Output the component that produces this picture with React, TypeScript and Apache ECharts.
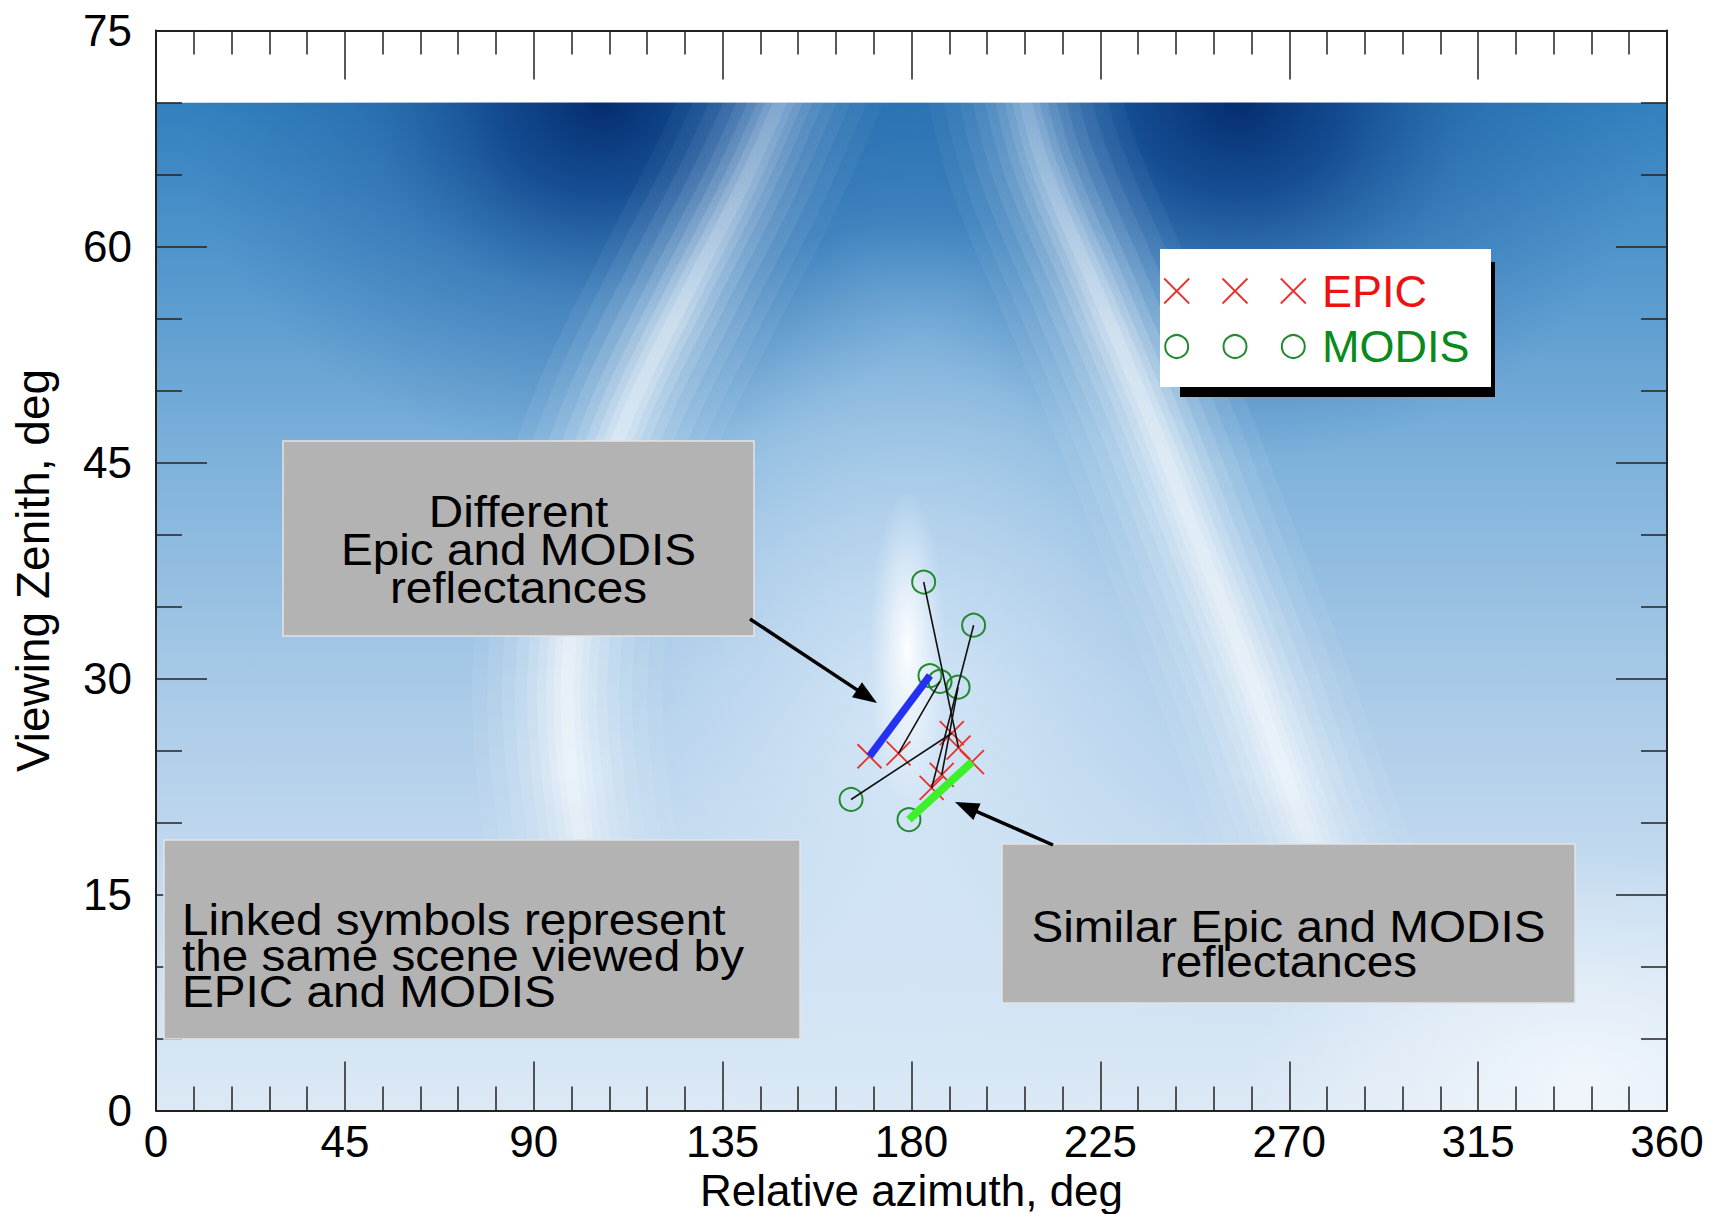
import React, { useEffect, useRef } from "react";
import * as echarts from "echarts";

// ---- axes ----
const xTicks = [0, 45, 90, 135, 180, 225, 270, 315, 360];
const yTicks = [0, 15, 30, 45, 60, 75];

// ---- observations: pair i links MODIS[i] with EPIC[i] ----
const epicAzimuth = [191.2, 184.8, 170.0, 176.9, 187.2, 189.6, 194.4];
const epicZenith = [25.2, 22.4, 24.6, 24.8, 23.3, 26.2, 24.2];
const modisAzimuth = [182.9, 194.8, 184.4, 186.8, 191.1, 165.6, 179.4];
const modisZenith = [36.7, 33.7, 30.2, 29.8, 29.4, 21.6, 20.2];
const differentPair = 2; // blue link
const similarPair = 6; // green link

// ---- background field features (azimuth, zenith) ----
const fieldTop = 70;
const ridgeLeft = [[153, 73], [141, 65], [127, 57], [112, 48], [102, 39], [98, 30], [100, 21], [106, 11]];
const ridgeRight = [[205, 73], [211, 66], [224, 57], [237, 48], [249, 39], [261, 30], [272, 21], [285, 11]];
const darkLobes = [[106, 70], [258, 70]];
const hotspot = [179, 32];

const FONT = "'Liberation Sans', Arial, Helvetica, sans-serif";

function renderBackdrop(_params: any, api: any) {
  const pt = (az: number, zen: number) => api.coord([az, zen]);
  const rectOf = (az0: number, az1: number, zLo: number, zHi: number) => {
    const a = pt(az0, zHi);
    const b = pt(az1, zLo);
    return { x: a[0], y: a[1], width: b[0] - a[0], height: b[1] - a[1] };
  };
  const radial = (stops: [number, string][]) => ({
    type: "radial", x: 0.5, y: 0.5, r: 0.5,
    colorStops: stops.map(([o, c]) => ({ offset: o, color: c })),
  });
  const children: any[] = [];
  children.push({
    type: "rect",
    shape: rectOf(0, 360, 0, fieldTop),
    style: {
      fill: {
        type: "linear", x: 0, y: 0, x2: 0, y2: 1,
        colorStops: [
          { offset: 0, color: "#3380be" },
          { offset: 0.143, color: "#4f94cb" },
          { offset: 0.357, color: "#7fb2db" },
          { offset: 0.571, color: "#a7c9e7" },
          { offset: 0.786, color: "#c7dcf0" },
          { offset: 1, color: "#dce9f5" },
        ],
      },
    },
  });
  darkLobes.forEach(([az, zen]) => {
    children.push({
      type: "rect",
      shape: rectOf(az - 100, az + 100, zen - 25, zen + 25),
      style: {
        fill: radial([
          [0, "rgba(4,42,108,0.97)"],
          [0.25, "rgba(10,60,132,0.78)"],
          [0.55, "rgba(24,84,155,0.35)"],
          [1, "rgba(30,95,165,0)"],
        ]),
      },
    });
  });
  // lighter interior of the arch
  children.push({
    type: "rect",
    shape: rectOf(95, 265, -8, 62),
    style: {
      fill: radial([
        [0, "rgba(226,239,251,0.75)"],
        [0.5, "rgba(214,231,247,0.45)"],
        [1, "rgba(214,231,247,0)"],
      ]),
    },
  });
  // bright bottom-right patch
  children.push({
    type: "rect",
    shape: rectOf(260, 420, -14, 18),
    style: { fill: radial([[0, "rgba(250,252,255,0.7)"], [1, "rgba(250,252,255,0)"]]) },
  });
  // bright ridges (soft glow built from stacked translucent strokes)
  [ridgeLeft, ridgeRight].forEach((ridge) => {
    const pts = ridge.map((p) => pt(p[0], p[1]));
    const layers: [number, number][] = [
      [190, 0.06], [160, 0.07], [130, 0.09], [104, 0.11], [80, 0.13],
      [60, 0.15], [42, 0.17], [27, 0.19], [13, 0.2],
    ];
    layers.forEach(([w, a]) => {
      children.push({
        type: "polyline",
        shape: { points: pts, smooth: 0.35 },
        style: {
          fill: null,
          lineWidth: w,
          lineCap: "round",
          lineJoin: "round",
          stroke: {
            type: "linear", x: 0, y: 0, x2: 0, y2: 1,
            colorStops: [
              { offset: 0, color: `rgba(225,238,250,${a * 0.45})` },
              { offset: 0.3, color: `rgba(255,255,255,${a})` },
              { offset: 0.8, color: `rgba(255,255,255,${a})` },
              { offset: 1, color: `rgba(255,255,255,0)` },
            ],
          },
        },
      });
    });
  });
  // hotspot
  children.push({
    type: "rect",
    shape: rectOf(hotspot[0] - 9, hotspot[0] + 9, hotspot[1] - 11, hotspot[1] + 11),
    style: {
      fill: radial([
        [0, "rgba(255,255,255,0.95)"],
        [0.45, "rgba(248,251,255,0.55)"],
        [1, "rgba(240,247,253,0)"],
      ]),
    },
  });
  // white band above the field
  children.push({ type: "rect", shape: rectOf(-20, 380, fieldTop, 90), style: { fill: "#ffffff" } });
  return { type: "group", children };
}

function arrow(x1: number, y1: number, x2: number, y2: number) {
  const dx = x2 - x1, dy = y2 - y1;
  const L = Math.hypot(dx, dy);
  const ux = dx / L, uy = dy / L;
  const hl = 24, hw = 9;
  const bx = x2 - ux * hl, by = y2 - uy * hl;
  return [
    { type: "line", z: 110, shape: { x1, y1, x2: bx + ux * 2, y2: by + uy * 2 }, style: { stroke: "#000", lineWidth: 3.5 } },
    { type: "polygon", z: 110, shape: { points: [[x2, y2], [bx - uy * hw, by + ux * hw], [bx + uy * hw, by - ux * hw]] }, style: { fill: "#000" } },
  ];
}

function legendGraphics() {
  const els: any[] = [];
  els.push({ type: "rect", z: 100, shape: { x: 1180, y: 262, width: 315, height: 135 }, style: { fill: "#000" } });
  els.push({ type: "rect", z: 101, shape: { x: 1160, y: 249, width: 331, height: 138 }, style: { fill: "#fff" } });
  const xs = [1176.7, 1235, 1293.3];
  xs.forEach((x) => {
    const h = 12.5, y = 291;
    els.push({ type: "line", z: 102, shape: { x1: x - h, y1: y - h, x2: x + h, y2: y + h }, style: { stroke: "#e8312a", lineWidth: 1.8 } });
    els.push({ type: "line", z: 102, shape: { x1: x - h, y1: y + h, x2: x + h, y2: y - h }, style: { stroke: "#e8312a", lineWidth: 1.8 } });
    els.push({ type: "circle", z: 102, shape: { cx: x, cy: 346.5, r: 11.5 }, style: { fill: "none", stroke: "#248a30", lineWidth: 2 } });
  });
  els.push({ type: "text", z: 102, x: 1322, y: 291, style: { text: "EPIC", fill: "#ee1111", fontSize: 45, fontFamily: FONT, align: "left", verticalAlign: "middle" } });
  els.push({ type: "text", z: 102, x: 1322, y: 346, style: { text: "MODIS", fill: "#098a1c", fontSize: 45, fontFamily: FONT, align: "left", verticalAlign: "middle" } });
  return els;
}

function noteBox(x: number, y: number, w: number, h: number, text: string, tx: number, ty: number, align: string, lh: number) {
  return [
    { type: "rect", z: 100, shape: { x, y, width: w, height: h }, style: { fill: "#b3b3b3", stroke: "#e4e4e4", lineWidth: 1.5 } },
    { type: "text", z: 101, x: tx, y: ty, scaleX: 1.06, style: { text, fill: "#000", fontSize: 45, fontFamily: FONT, align, verticalAlign: "middle", lineHeight: lh } },
  ];
}

export default function App() {
  const ref = useRef<HTMLDivElement>(null);
  useEffect(() => {
    if (!ref.current) return;
    const chart = echarts.init(ref.current, undefined, { renderer: "svg" });
    const epicData = epicAzimuth.map((a, i) => [a, epicZenith[i]]);
    const modisData = modisAzimuth.map((a, i) => [a, modisZenith[i]]);
    const linkData = modisAzimuth
      .map((a, i) => ({ i, coords: [[a, modisZenith[i]], [epicAzimuth[i], epicZenith[i]]] }))
      .filter((d) => d.i !== differentPair && d.i !== similarPair)
      .map((d) => ({ coords: d.coords }));
    const highlightData = [
      {
        coords: [[epicAzimuth[differentPair], epicZenith[differentPair]], [modisAzimuth[differentPair], modisZenith[differentPair]]],
        lineStyle: { color: "#2430f2", width: 7.5 },
      },
      {
        coords: [[modisAzimuth[similarPair], modisZenith[similarPair]], [epicAzimuth[similarPair], epicZenith[similarPair]]],
        lineStyle: { color: "#3cf02a", width: 8 },
      },
    ];

    const tickLine = { color: "#222", width: 1.5 };
    const baseX = {
      type: "value",
      min: xTicks[0],
      max: xTicks[xTicks.length - 1],
      interval: xTicks[1] - xTicks[0],
      axisLine: { show: true, onZero: false, lineStyle: { color: "#222", width: 2 } },
      axisTick: { show: true, inside: true, length: 49, lineStyle: tickLine },
      minorTick: { show: true, splitNumber: 5, length: 24, lineStyle: tickLine },
      splitLine: { show: false },
      z: 10,
    };
    const baseY = {
      type: "value",
      min: yTicks[0],
      max: yTicks[yTicks.length - 1],
      interval: yTicks[1] - yTicks[0],
      axisLine: { show: true, onZero: false, lineStyle: { color: "#222", width: 2 } },
      axisTick: { show: true, inside: true, length: 51, lineStyle: tickLine },
      minorTick: { show: true, splitNumber: 3, length: 26, lineStyle: tickLine },
      splitLine: { show: false },
      z: 10,
    };

    chart.setOption({
      animation: false,
      backgroundColor: "#ffffff",
      grid: { left: 156, top: 30.5, width: 1511, height: 1080, containLabel: false, outerBoundsMode: "none" },
      xAxis: [
        {
          ...baseX,
          position: "bottom",
          name: "Relative azimuth, deg",
          nameLocation: "middle",
          nameGap: 46,
          nameTextStyle: { fontSize: 44, fontFamily: FONT, color: "#000", lineHeight: 44 },
          axisLabel: { show: true, fontSize: 44, fontFamily: FONT, color: "#000", margin: 9 },
        },
        { ...baseX, position: "top", axisLabel: { show: false } },
      ],
      yAxis: [
        {
          ...baseY,
          position: "left",
          name: "Viewing Zenith, deg",
          nameLocation: "middle",
          nameGap: 100,
          nameTextStyle: { fontSize: 46, fontFamily: FONT, color: "#000" },
          axisLabel: { show: true, fontSize: 44, fontFamily: FONT, color: "#000", margin: 24 },
        },
        { ...baseY, position: "right", axisLabel: { show: false } },
      ],
      series: [
        {
          type: "custom",
          name: "field",
          z: -5,
          silent: true,
          clip: true,
          xAxisIndex: 0,
          yAxisIndex: 0,
          data: [[0, 0]],
          encode: { x: 0, y: 1 },
          renderItem: renderBackdrop,
        },
        {
          type: "scatter",
          name: "EPIC",
          z: 3,
          symbol: "path://M0,0L24,24M24,0L0,24",
          symbolSize: 24,
          itemStyle: { color: "rgba(0,0,0,0)", borderColor: "#e8312a", borderWidth: 1.8, opacity: 1 },
          data: epicData,
        },
        {
          type: "scatter",
          name: "MODIS",
          z: 3,
          symbol: "circle",
          symbolSize: 23,
          itemStyle: { color: "rgba(0,0,0,0)", borderColor: "#248a30", borderWidth: 2, opacity: 1 },
          data: modisData,
        },
        {
          type: "lines",
          name: "links",
          coordinateSystem: "cartesian2d",
          z: 4,
          silent: true,
          lineStyle: { color: "#111", width: 1.6, opacity: 1 },
          data: linkData,
        },
        {
          type: "lines",
          name: "highlight",
          coordinateSystem: "cartesian2d",
          z: 5,
          silent: true,
          lineStyle: { opacity: 1 },
          data: highlightData,
        },
      ],
      graphic: [
        ...noteBox(283, 441, 471, 195, "Different\nEpic and MODIS\nreflectances", 518.5, 549, "center", 38),
        ...noteBox(164, 840, 636, 199, "Linked symbols represent\nthe same scene viewed by\nEPIC and MODIS", 182, 955, "left", 36),
        ...noteBox(1002, 844, 573, 159, "Similar Epic and MODIS\nreflectances", 1288.5, 943.5, "center", 35),
        ...arrow(750, 619, 877, 703),
        ...arrow(1053, 845, 955, 802),
        ...legendGraphics(),
      ],
    });
    return () => chart.dispose();
  }, []);
  return (
    <div
      ref={ref}
      style={{ position: "fixed", left: 0, top: 0, width: 1712, height: 1214, background: "#fff" }}
    />
  );
}
